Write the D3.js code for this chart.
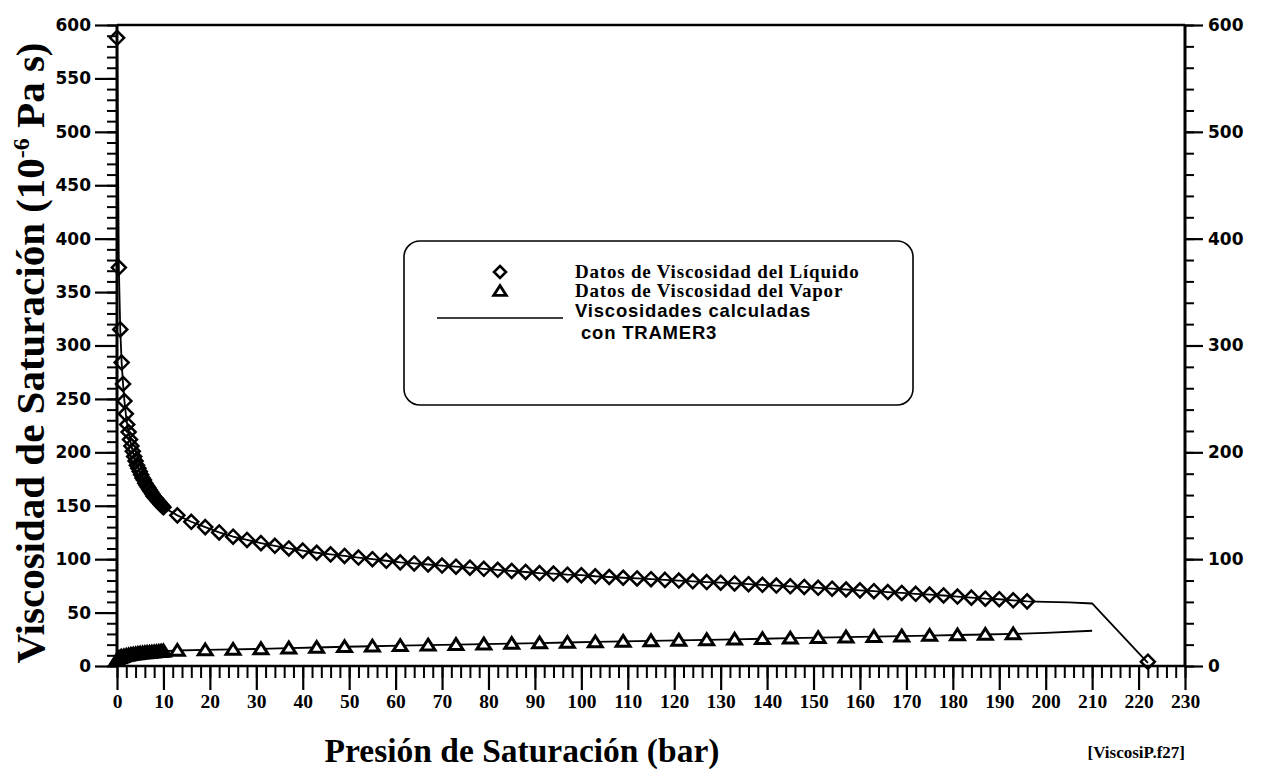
<!DOCTYPE html>
<html>
<head>
<meta charset="utf-8">
<script src="https://cdn.jsdelivr.net/npm/d3@7/dist/d3.min.js"></script>
<style>
  html, body { margin: 0; padding: 0; background: #fff; }
  svg { display: block; }
</style>
</head>
<body>
<svg id="chart" width="1263" height="777"></svg>
<script>
// ---------- data ----------
// Liquid viscosity data (pressure in bar, viscosity in 1e-6 Pa s)
const liquidP = [0.02, 0.4, 0.7, 1.0, 1.3, 1.6, 1.9, 2.2, 2.5, 2.8, 3.1, 3.4, 3.7, 4.0, 4.3, 4.6, 4.9, 5.2, 5.5, 5.8,
  6.1, 6.4, 6.7, 7.0, 7.3, 7.6, 7.9, 8.2, 8.5, 8.8, 9.1, 9.4, 9.7, 10.0,
  13, 16, 19, 22, 25, 28, 31, 34, 37, 40, 43, 46, 49, 52, 55, 58, 61, 64, 67, 70, 73, 76, 79, 82, 85, 88, 91, 94, 97,
  100, 103, 106, 109, 112, 115, 118, 121, 124, 127, 130, 133, 136, 139, 142, 145, 148, 151, 154, 157, 160, 163, 166,
  169, 172, 175, 178, 181, 184, 187, 190, 193, 196, 222];
const liquidV = [588, 373, 315, 284, 264, 248, 236, 226, 219, 212, 206, 201, 196, 192, 188, 185, 182, 179, 176, 174,
  171, 169, 167, 165, 163, 161, 159, 157.5, 156, 154.5, 153, 151.5, 150, 148.5,
  141, 135, 130, 125, 121, 118, 115, 112.5, 110, 108, 106, 104.5, 103, 101.5, 100, 98.5, 97, 96, 95, 94, 93, 92, 91, 90, 89, 88, 87, 86.5, 85.5,
  85, 84, 83.3, 82.6, 82, 81.3, 80.6, 80, 79.3, 78.6, 78, 77.3, 76.6, 76, 75.3, 74.6, 74, 73.2, 72.4, 71.6, 70.8, 70,
  69.2, 68.4, 67.6, 66.8, 66, 65, 64, 63, 62.5, 61.5, 60.5, 4];

// Vapor viscosity data
const vaporP = [0.02, 0.4, 0.7, 1.0, 1.5, 2.0, 2.5, 3.0, 3.5, 4.0, 4.5, 5.0, 5.5, 6.0, 6.5, 7.0, 7.5, 8.0, 8.5, 9.0, 9.5, 10.0,
  13, 19, 25, 31, 37, 43, 49, 55, 61, 67, 73, 79, 85, 91, 97, 103, 109, 115, 121, 127, 133, 139, 145, 151, 157, 163,
  169, 175, 181, 187, 193];
const vaporV = [6, 7.5, 8.3, 8.8, 9.4, 9.9, 10.3, 10.7, 11, 11.3, 11.6, 11.9, 12.1, 12.3, 12.5, 12.7, 12.9, 13.1, 13.3, 13.5, 13.7, 13.9,
  14.5, 15, 15.5, 16, 16.7, 17.3, 18, 18.5, 19, 19.5, 20, 20.5, 21, 21.5, 22, 22.5, 23, 23.5, 24, 24.5, 25, 25.5, 26, 26.5, 27, 27.5,
  28, 28.5, 29, 29.5, 30];

// Calculated curves (TRAMER3): extra points beyond the data
const calcLiquidTailP = [200, 205, 210, 222];
const calcLiquidTailV = [60, 59.5, 58.5, 3];
const calcVaporTailP = [200, 210];
const calcVaporTailV = [31, 33];

// Axis ticks
const xTicks = d3.range(0, 231, 10);
const yLeftTicks = [0, 50, 100, 150, 200, 250, 300, 350, 400, 450, 500, 550, 600];
const yRightTicks = [0, 100, 200, 300, 400, 500, 600];

// Text
const yTitle = "Viscosidad de Saturación (10";
const yTitleSup = "-6";
const yTitleEnd = " Pa s)";
const xTitle = "Presión de Saturación (bar)";
const fileTag = "[ViscosiP.f27]";
const legendLabels = ["Datos de Viscosidad del Líquido", "Datos de Viscosidad del Vapor", "Viscosidades calculadas", " con TRAMER3"];

// ---------- drawing ----------
const svg = d3.select("#chart");
const x = d3.scaleLinear().domain([0, 230]).range([117, 1185]);
const y = d3.scaleLinear().domain([0, 600]).range([666, 25]);

const sansBold = "'DejaVu Sans', sans-serif";
const serif = "'Liberation Serif', 'Times New Roman', serif";
const arial = "'Liberation Sans', Arial, sans-serif";

function styleAxis(g, sw) {
  g.select(".domain").remove();
  g.selectAll(".tick line").attr("stroke", "#000").attr("stroke-width", sw);
}

// Minor ticks
svg.append("g").attr("transform", "translate(117,0)")
  .call(d3.axisLeft(y).tickValues(d3.range(0, 601, 10)).tickSize(10).tickFormat(""))
  .call(g => styleAxis(g, 2));
svg.append("g").attr("transform", "translate(1185,0)")
  .call(d3.axisRight(y).tickValues(d3.range(0, 601, 20)).tickSize(9).tickFormat(""))
  .call(g => styleAxis(g, 2));
svg.append("g").attr("transform", "translate(0,666)")
  .call(d3.axisBottom(x).tickValues(d3.range(0, 231, 2)).tickSize(12).tickFormat(""))
  .call(g => styleAxis(g, 2));

// Major ticks + labels
const gl = svg.append("g").attr("transform", "translate(117,0)")
  .call(d3.axisLeft(y).tickValues(yLeftTicks).tickSize(22).tickPadding(4).tickFormat(d3.format("d")));
styleAxis(gl, 2.2);
gl.selectAll("text").attr("font-family", sansBold).attr("font-weight", "bold").attr("font-size", 17).attr("fill", "#000");

const gr = svg.append("g").attr("transform", "translate(1185,0)")
  .call(d3.axisRight(y).tickValues(yRightTicks).tickSize(18).tickPadding(5).tickFormat(d3.format("d")));
styleAxis(gr, 2.2);
gr.selectAll("text").attr("font-family", sansBold).attr("font-weight", "bold").attr("font-size", 17).attr("fill", "#000");

const gb = svg.append("g").attr("transform", "translate(0,666)")
  .call(d3.axisBottom(x).tickValues(xTicks).tickSize(24).tickPadding(4).tickFormat(d3.format("d")));
styleAxis(gb, 2.2);
gb.selectAll("text").attr("font-family", serif).attr("font-weight", "bold").attr("font-size", 19.5).attr("fill", "#000");

// Frame lines
const frame = svg.append("g").attr("stroke", "#000").attr("fill", "none");
frame.append("line").attr("x1", x(0)).attr("x2", x(0)).attr("y1", y(600)).attr("y2", y(0)).attr("stroke-width", 3);
frame.append("line").attr("x1", x(230)).attr("x2", x(230)).attr("y1", y(600)).attr("y2", y(0)).attr("stroke-width", 3);
frame.append("line").attr("x1", x(0)).attr("x2", x(230)).attr("y1", y(0)).attr("y2", y(0)).attr("stroke-width", 2.5);
frame.append("line").attr("x1", x(0)).attr("x2", x(230)).attr("y1", y(600)).attr("y2", y(600)).attr("stroke-width", 2.5);

// Calculated lines
const line = d3.line().x(d => x(d[0])).y(d => y(d[1]));
const liqCalc = liquidP.slice(0, -1).map((p, i) => [p, liquidV[i]])
  .concat(calcLiquidTailP.map((p, i) => [p, calcLiquidTailV[i]]));
const vapCalc = vaporP.map((p, i) => [p, vaporV[i]])
  .concat(calcVaporTailP.map((p, i) => [p, calcVaporTailV[i]]));
svg.append("path").datum(liqCalc).attr("d", line).attr("fill", "none").attr("stroke", "#000").attr("stroke-width", 1.8);
svg.append("path").datum(vapCalc).attr("d", line).attr("fill", "none").attr("stroke", "#000").attr("stroke-width", 1.8);

// Markers
const diamond = (cx, cy, r) => `M${cx},${cy - r}L${cx + r},${cy}L${cx},${cy + r}L${cx - r},${cy}Z`;
const triangle = (cx, cy, r) => `M${cx},${cy - r}L${cx + r * 1.15},${cy + r * 0.8}L${cx - r * 1.15},${cy + r * 0.8}Z`;

svg.append("g").selectAll("path").data(liquidP.map((p, i) => [p, liquidV[i]])).join("path")
  .attr("d", d => diamond(x(d[0]), y(d[1]), 7))
  .attr("fill", "none").attr("stroke", "#000").attr("stroke-width", 2.5);

const vapPts = vaporP.map((p, i) => [p, vaporV[i]]);
svg.append("g").selectAll("path").data(vapPts).join("path")
  .attr("d", d => triangle(x(d[0]), y(d[1]), 6))
  .attr("fill", "#fff").attr("stroke", "none");
svg.append("g").selectAll("path").data(vapPts).join("path")
  .attr("d", d => triangle(x(d[0]), y(d[1]), 6))
  .attr("fill", "none").attr("stroke", "#000").attr("stroke-width", 3).attr("stroke-linejoin", "miter");

// Legend
const lg = svg.append("g");
lg.append("rect").attr("x", 404).attr("y", 241).attr("width", 509).attr("height", 164).attr("rx", 16).attr("ry", 16)
  .attr("fill", "#fff").attr("stroke", "#000").attr("stroke-width", 1.6);
lg.append("path").attr("d", diamond(500, 272, 6)).attr("fill", "none").attr("stroke", "#000").attr("stroke-width", 2.6);
lg.append("path").attr("d", triangle(500, 291, 5.5)).attr("fill", "none").attr("stroke", "#000").attr("stroke-width", 2.8);
lg.append("line").attr("x1", 437).attr("x2", 563).attr("y1", 318).attr("y2", 318).attr("stroke", "#000").attr("stroke-width", 1.5);
lg.append("text").attr("x", 575).attr("y", 278).text(legendLabels[0])
  .attr("font-family", serif).attr("font-weight", "bold").attr("font-size", 19).attr("letter-spacing", 0.8);
lg.append("text").attr("x", 575).attr("y", 297).text(legendLabels[1])
  .attr("font-family", serif).attr("font-weight", "bold").attr("font-size", 19).attr("letter-spacing", 0.8);
lg.append("text").attr("x", 575).attr("y", 317).text(legendLabels[2])
  .attr("font-family", arial).attr("font-weight", "bold").attr("font-size", 18.5).attr("letter-spacing", 0.8);
lg.append("text").attr("x", 575).attr("y", 339).style("white-space", "pre").text(legendLabels[3])
  .attr("font-family", arial).attr("font-weight", "bold").attr("font-size", 18.5).attr("letter-spacing", 0.8);

// Axis titles
const yt = svg.append("text")
  .attr("transform", "translate(44,353) rotate(-90)")
  .attr("text-anchor", "middle")
  .attr("font-family", serif).attr("font-weight", "bold").attr("font-size", 41);
yt.append("tspan").text(yTitle);
yt.append("tspan").attr("dy", -15).attr("font-size", 24).text(yTitleSup);
yt.append("tspan").attr("dy", 15).text(yTitleEnd);

svg.append("text").attr("x", 522).attr("y", 762).attr("text-anchor", "middle")
  .attr("font-family", serif).attr("font-weight", "bold").attr("font-size", 33.5).text(xTitle);
svg.append("text").attr("x", 1185).attr("y", 758).attr("text-anchor", "end")
  .attr("font-family", serif).attr("font-weight", "bold").attr("font-size", 17).text(fileTag);
</script>
</body>
</html>
